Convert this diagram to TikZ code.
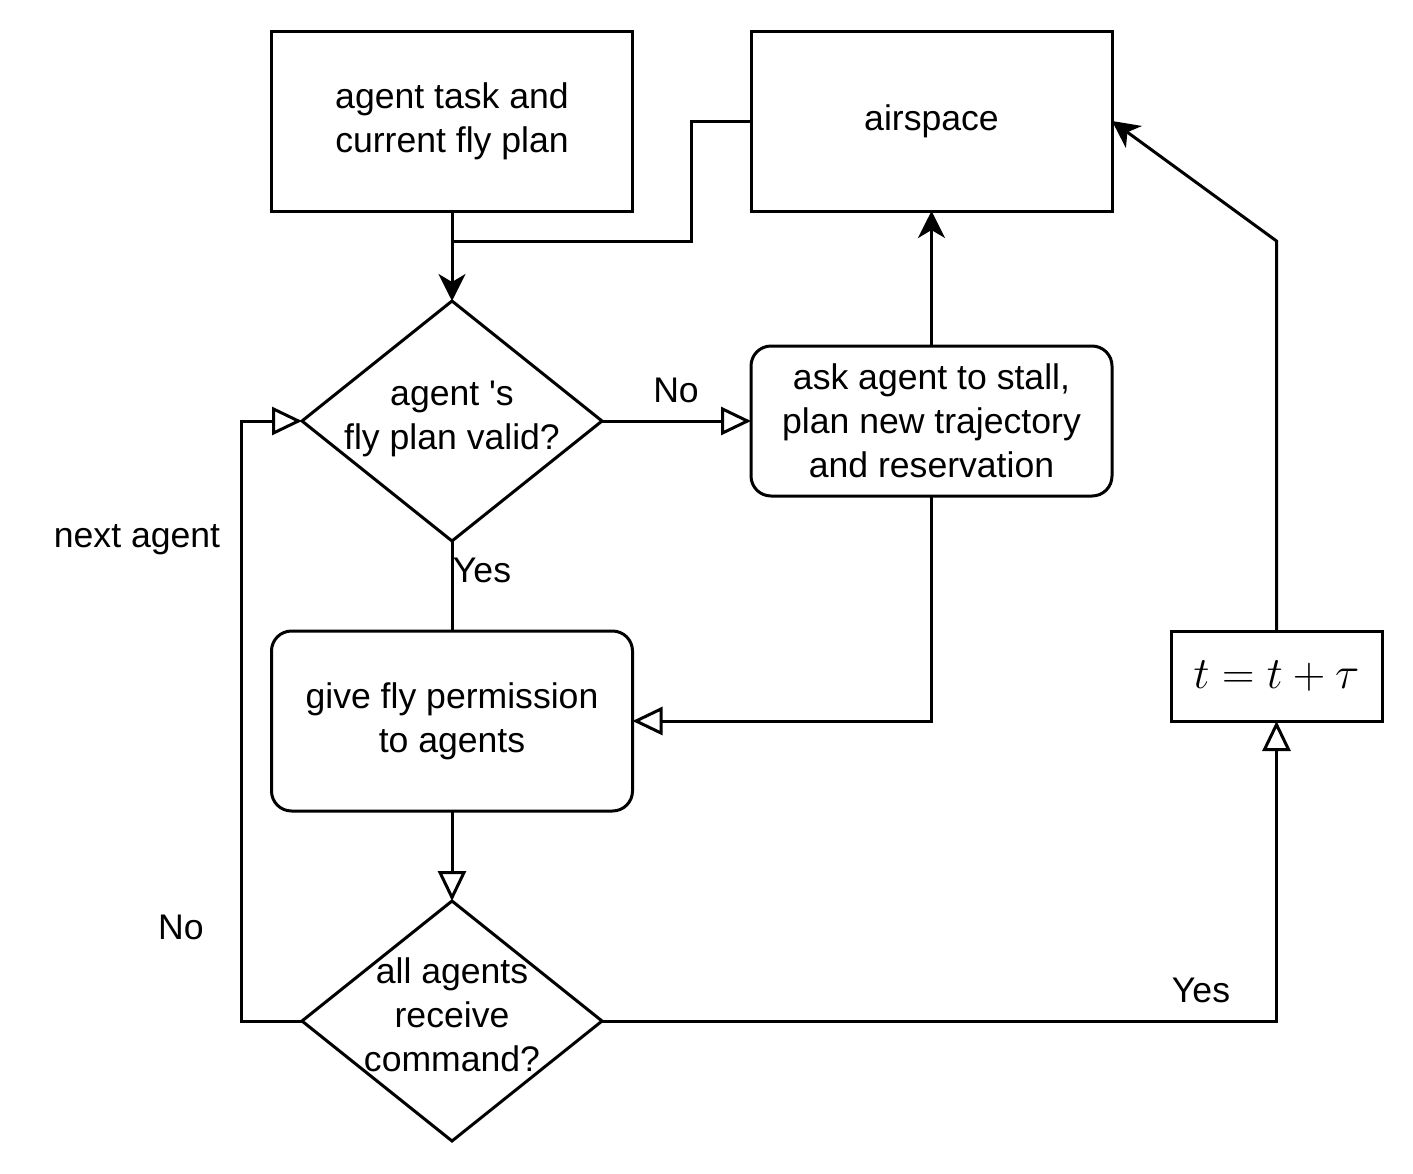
\RequirePackage{fix-cm}
\documentclass[tikz,border=0pt]{standalone}
\usepackage{fontspec}
\setmainfont{Liberation Sans}
\usetikzlibrary{positioning,calc,shapes,shapes.geometric,arrows.meta}

\tikzset{
	flowbox/.style={draw, line width=1.5pt, minimum width=180.5pt, minimum height=90pt, align=center, inner sep=0pt, outer sep=0pt},
	roundbox/.style={flowbox, rounded corners=10pt},
	decision/.style={draw, diamond, line width=1.5pt, minimum width=150pt, minimum height=120pt, inner sep=0pt, outer sep=0pt},
	flowtext/.style={font=\fontsize{17.8pt}{22pt}\selectfont, align=center},
	link/.style={line width=1.5pt},
	solidtip/.style={link, -{Stealth[length=13.5pt, width=13.5pt, inset=4pt]}},
	opentip/.style={link, -{Triangle[open, length=15pt, width=14pt, fill=white]}}
}
\newcommand{\flowlabel}[3][]{
	\node [flowtext] (#1) at (#2) {#3};
}

\begin{document}
\begin{tikzpicture}[x=0.5pt, y=-0.5pt]
		\useasboundingbox (0,0) rectangle (1413,1173);
		
		\node [flowbox, flowtext] (task) at (452,121) {agent task and\\current fly plan};
		\node [flowbox, flowtext] (air) at (931.5,121) {airspace};
		\node [decision] (valid) at (452,421) {};
		\node [flowtext] (validtxt) at ($(valid)+(0,-2)$) {agent \textquotesingle s\\fly plan valid?};
		\node [roundbox, flowtext, minimum height=75pt] (ask) at (931.5,421) {ask agent to stall,\\plan new trajectory\\and reservation};
		\node [roundbox, flowtext] (give) at (452,721) {give fly permission\\to agents};
		\node [decision] (recv) at (452,1021) {};
		\node [flowtext] (recvtxt) at ($(recv)+(0,-6)$) {all agents\\receive\\command?};
		\node [flowbox, minimum width=105.5pt, minimum height=45pt] (tstep) at (1276.5,676) {\fontsize{22.5pt}{26pt}\selectfont $t = t + \tau$};
		
		\flowlabel[noask]{676,390}{No}
		\flowlabel[yesgive]{482,570}{Yes}
		\flowlabel[nextlbl]{137,540}{next agent}
		\flowlabel[nonext]{181,927}{No}
		\flowlabel[yestime]{1201,990}{Yes}
		
		% the airspace feed joins the plan line
		\coordinate (join) at (452,241);
		\draw [solidtip] (task.south) -- (valid.north);
		\draw [link] (air.west) -- ++(-60,0) |- (join);
		\draw [opentip] (valid.east) -- (ask.west);
		\draw [solidtip] (ask.north) -- (air.south);
		\draw [link] (valid.south) -- (give.north);
		\draw [opentip] (ask.south) |- (give.east);
		\draw [opentip] (give.south) -- (recv.north);
		\draw [opentip] (recv.west) -- ++(-61,0) |- (valid.west);
		\draw [opentip] (recv.east) -| (tstep.south);
		\draw [solidtip] (tstep.north) -- ++(0,-390) -- (air.east);
\end{tikzpicture}
\end{document}
